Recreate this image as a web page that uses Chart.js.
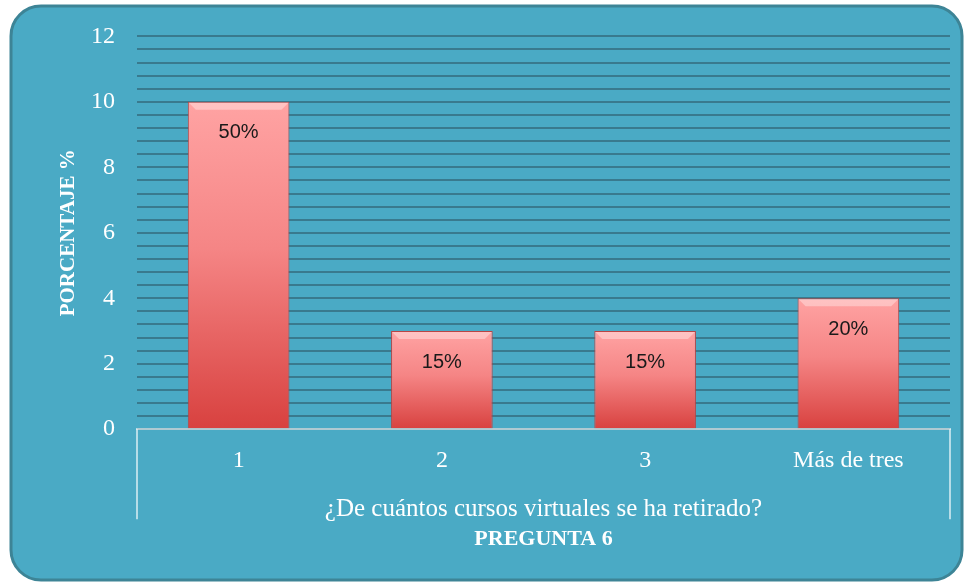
<!DOCTYPE html>
<html>
<head>
<meta charset="utf-8">
<script src="https://cdn.jsdelivr.net/npm/chart.js@4.4.1/dist/chart.umd.min.js"></script>
<style>
  html, body { margin: 0; padding: 0; background: #ffffff; }
  #wrap { width: 964px; height: 583px; }
</style>
</head>
<body>
<div id="wrap"><canvas id="chart" width="964" height="583"></canvas></div>
<script>
const categories = ["1", "2", "3", "Más de tres"];
const values = [10, 3, 3, 4];
const pctLabels = ["50%", "15%", "15%", "20%"];
const yTicks = [0, 2, 4, 6, 8, 10, 12];

const SERIF = "'Liberation Serif', 'DejaVu Serif', serif";

// Rounded teal panel behind everything
const panelBg = {
  id: "panelBg",
  beforeDraw(chart) {
    const ctx = chart.ctx;
    ctx.save();
    ctx.beginPath();
    ctx.roundRect(11, 6, 951, 574, 30);
    ctx.fillStyle = "#4aaac5";
    ctx.fill();
    ctx.lineWidth = 3;
    ctx.strokeStyle = "#3d8496";
    ctx.stroke();
    ctx.restore();
  }
};

// Category box sides, bar bevel, value labels, bottom caption
const extras = {
  id: "extras",
  afterDatasetsDraw(chart) {
    const ctx = chart.ctx;
    const area = chart.chartArea;
    ctx.save();
    ctx.strokeStyle = "rgba(255,255,255,0.6)";
    ctx.lineWidth = 2;
    ctx.beginPath();
    ctx.moveTo(area.left, area.bottom);
    ctx.lineTo(area.left, area.bottom + 90);
    ctx.moveTo(area.right, area.bottom);
    ctx.lineTo(area.right, area.bottom + 90);
    ctx.stroke();

    const meta = chart.getDatasetMeta(0);
    // light bevel along the top edge of each bar
    meta.data.forEach(bar => {
      const l = bar.x - bar.width / 2, r = bar.x + bar.width / 2;
      ctx.fillStyle = "rgba(255,255,255,0.35)";
      ctx.beginPath();
      ctx.moveTo(l + 1, bar.y + 1);
      ctx.lineTo(r - 1, bar.y + 1);
      ctx.lineTo(r - 8, bar.y + 8);
      ctx.lineTo(l + 8, bar.y + 8);
      ctx.closePath();
      ctx.fill();
    });

    ctx.fillStyle = "#1a1a1a";
    ctx.font = "20px 'Liberation Sans', sans-serif";
    ctx.textAlign = "center";
    ctx.textBaseline = "middle";
    meta.data.forEach((bar, i) => {
      ctx.fillText(pctLabels[i], bar.x, bar.y + 31);
    });

    ctx.fillStyle = "#ffffff";
    ctx.font = "bold 22px " + SERIF;
    ctx.fillText("PREGUNTA 6", (area.left + area.right) / 2, 539);
    ctx.restore();
  }
};

new Chart(document.getElementById("chart"), {
  type: "bar",
  data: {
    labels: categories,
    datasets: [{
      data: values,
      backgroundColor(context) {
        const chart = context.chart;
        const y = chart.scales.y;
        if (!chart.chartArea || !y) return "#ef7070";
        const top = y.getPixelForValue(context.parsed.y);
        const bottom = y.getPixelForValue(0);
        const g = chart.ctx.createLinearGradient(0, top, 0, bottom);
        g.addColorStop(0, "#ffa3a3");
        g.addColorStop(0.45, "#f58585");
        g.addColorStop(1, "#d8413f");
        return g;
      },
      borderColor: "#b94545",
      borderWidth: 1,
      barPercentage: 0.5,
      categoryPercentage: 1
    }]
  },
  options: {
    responsive: false,
    animation: false,
    layout: { padding: { left: 56, right: 14, top: 36, bottom: 59 } },
    plugins: {
      legend: { display: false },
      tooltip: { enabled: false }
    },
    scales: {
      x: {
        grid: { display: false, drawTicks: false },
        border: { display: true, color: "rgba(255,255,255,0.6)", width: 2 },
        ticks: { color: "#ffffff", font: { family: SERIF, size: 24 }, padding: 17 },
        title: {
          display: true,
          text: "¿De cuántos cursos virtuales se ha retirado?",
          color: "#ffffff",
          font: { family: SERIF, size: 25 },
          padding: { top: 2, bottom: 0 }
        }
      },
      y: {
        min: 0,
        max: 12,
        afterBuildTicks(scale) {
          const t = [];
          for (let k = 0; k <= 30; k++) t.push({ value: k * 0.4 });
          scale.ticks = t;
        },
        afterFit(scale) { scale.width = 81; },
        grid: { color: "#397a8e", lineWidth: 2, drawTicks: false },
        border: { display: false },
        ticks: {
          autoSkip: false,
          color: "#ffffff",
          font: { family: SERIF, size: 24 },
          padding: 22,
          callback(v) {
            const r = Math.round(v);
            return (Math.abs(v - r) < 1e-6 && yTicks.includes(r)) ? String(r) : "";
          }
        },
        title: {
          display: true,
          text: "PORCENTAJE %",
          color: "#ffffff",
          font: { family: SERIF, size: 21, weight: "bold" },
          padding: { top: 0, bottom: 0 }
        }
      }
    }
  },
  plugins: [panelBg, extras]
});
</script>
</body>
</html>
